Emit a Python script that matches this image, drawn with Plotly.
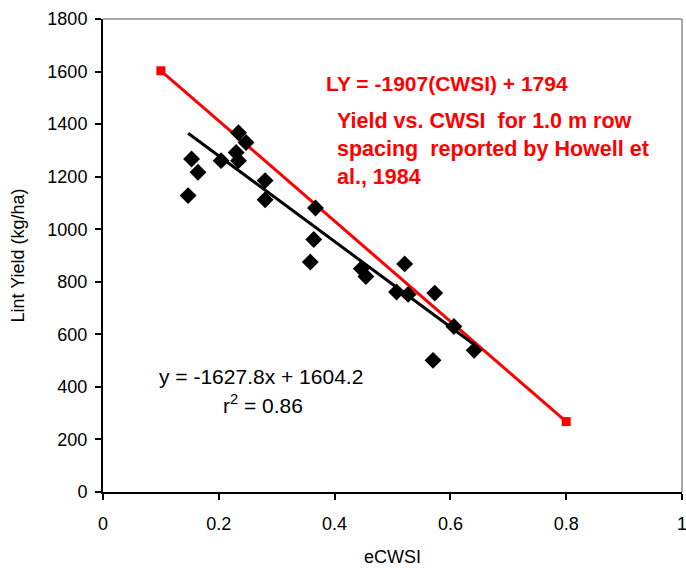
import plotly.graph_objects as go

# Measured data (eCWSI vs lint yield)
ecwsi = [0.147, 0.153, 0.164, 0.204, 0.230, 0.234, 0.234, 0.247, 0.280, 0.280,
         0.358, 0.364, 0.367, 0.446, 0.454, 0.507, 0.521, 0.527, 0.570, 0.573,
         0.606, 0.641]
lint_yield = [1128, 1267, 1217, 1261, 1292, 1261, 1367, 1330, 1185, 1112,
              875, 961, 1081, 850, 820, 761, 868, 752, 501, 757,
              630, 539]

# Linear fit line of measured data (y = -1627.8x + 1604.2)
fit_x = [0.147, 0.641]
fit_y = [1365, 561]

# Howell et al. (1984) relation LY = -1907(CWSI) + 1794
howell_x = [0.1, 0.8]
howell_y = [1603, 268]

x_ticks = [0, 0.2, 0.4, 0.6, 0.8, 1]
x_tick_labels = ["0", "0.2", "0.4", "0.6", "0.8", "1"]
y_ticks = [0, 200, 400, 600, 800, 1000, 1200, 1400, 1600, 1800]

FONT = "Liberation Sans, Arial, sans-serif"
RED = "#ff0000"

fig = go.Figure()
fig.add_trace(go.Scatter(x=howell_x, y=howell_y, mode="lines+markers",
                         line=dict(color=RED, width=3),
                         marker=dict(symbol="square", size=9, color=RED),
                         showlegend=False))
fig.add_trace(go.Scatter(x=fit_x, y=fit_y, mode="lines",
                         line=dict(color="black", width=3),
                         showlegend=False))
fig.add_trace(go.Scatter(x=ecwsi, y=lint_yield, mode="markers",
                         marker=dict(symbol="diamond", size=13, color="black"),
                         showlegend=False, cliponaxis=False))

fig.update_layout(
    width=686, height=574,
    margin=dict(l=103, r=4, t=19, b=82, autoexpand=False),
    paper_bgcolor="white", plot_bgcolor="white",
    font=dict(family=FONT, size=18, color="black"),
    xaxis=dict(range=[0, 1], tickmode="array", tickvals=x_ticks, ticktext=x_tick_labels,
               showgrid=False, zeroline=False, showline=True, linecolor="black",
               linewidth=2, ticks="outside", ticklen=6, tickcolor="black", tickwidth=2,
               ticklabelstandoff=8, automargin=False, tickfont=dict(size=18),
               ticklabeloverflow="allow",
               title=dict(text="eCWSI", standoff=18, font=dict(size=18))),
    yaxis=dict(range=[0, 1800], tickvals=y_ticks,
               showgrid=False, zeroline=False, showline=True, linecolor="black",
               linewidth=2, ticks="outside", ticklen=6, tickcolor="black", tickwidth=2,
               ticklabelstandoff=4, automargin=False, tickfont=dict(size=18),
               ticklabeloverflow="allow",
               title=dict(text="Lint Yield (kg/ha)", standoff=18, font=dict(size=18))),
    shapes=[
        dict(type="line", xref="paper", yref="paper", x0=0, x1=1, y0=1, y1=1,
             line=dict(color="#8c8c8c", width=1.5)),
        dict(type="line", xref="paper", yref="paper", x0=1, x1=1, y0=0, y1=1,
             line=dict(color="#8c8c8c", width=1.5)),
    ],
    annotations=[
        dict(x=0.0934, y=440, xref="x", yref="y", xanchor="left",
             text="y = -1627.8x + 1604.2",
             showarrow=False, font=dict(size=21, color="black")),
        dict(x=0.203, y=335, xref="x", yref="y", xanchor="left",
             text="r<sup>2</sup> = 0.86",
             showarrow=False, font=dict(size=21, color="black")),
        dict(x=0.381, y=1556, xref="x", yref="y", xanchor="left",
             text="<b>LY = -1907(CWSI) + 1794</b>",
             showarrow=False, font=dict(size=21, color=RED)),
        dict(x=0.4006, y=1412, xref="x", yref="y", xanchor="left",
             text="<b>Yield vs. CWSI \u00a0for 1.0 m row</b>",
             showarrow=False, font=dict(size=21.5, color=RED)),
        dict(x=0.4006, y=1305, xref="x", yref="y", xanchor="left",
             text="<b>spacing \u00a0reported by Howell et</b>",
             showarrow=False, font=dict(size=21.5, color=RED)),
        dict(x=0.4006, y=1200, xref="x", yref="y", xanchor="left",
             text="<b>al., 1984</b>",
             showarrow=False, font=dict(size=21.5, color=RED)),
    ],
)

# Remove the default page margin so the 686x574 figure fills the window exactly
# (no scrollbars hiding the right edge); hide the toolbar.
fig.write_html(
    "out.html",
    config={"displayModeBar": False},
    post_script="document.body.style.margin='0';document.body.style.overflow='hidden';",
)
